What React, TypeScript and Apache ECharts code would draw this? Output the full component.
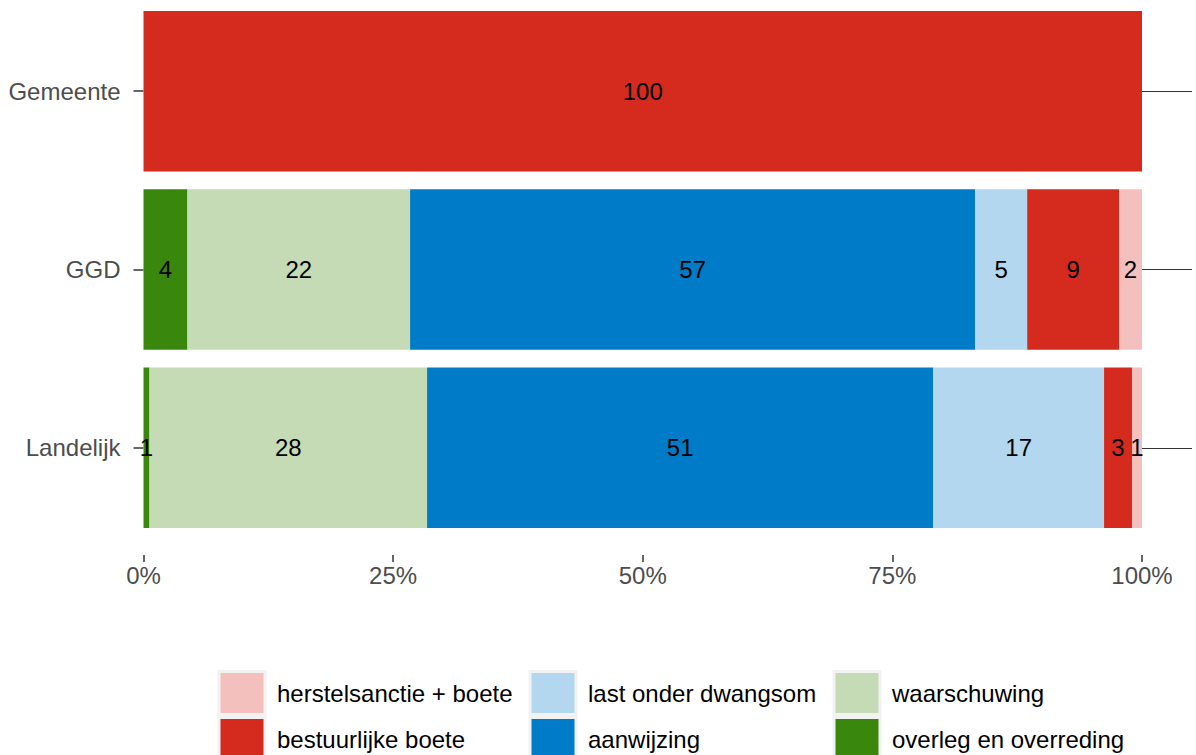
import React, { useEffect, useRef } from "react";
import * as echarts from "echarts";

const categories = ["Gemeente", "GGD", "Landelijk"];
const overleg = [0, 4.4, 0.6];
const waarschuwing = [0, 22.3, 27.8];
const aanwijzing = [0, 56.6, 50.7];
const lastOnderDwangsom = [0, 5.2, 17.1];
const bestuurlijkeBoete = [100, 9.2, 2.8];
const herstelsanctie = [0, 2.3, 1.0];
const xTicks = [0, 25, 50, 75, 100];

const FONT = "'Liberation Sans', Arial, Helvetica, sans-serif";

const seriesDefs = [
  { name: "overleg en overreding", data: overleg, color: "#39870c" },
  { name: "waarschuwing", data: waarschuwing, color: "#c5dbb5" },
  { name: "aanwijzing", data: aanwijzing, color: "#007bc7" },
  { name: "last onder dwangsom", data: lastOnderDwangsom, color: "#b3d7ee" },
  { name: "bestuurlijke boete", data: bestuurlijkeBoete, color: "#d52b1e" },
  { name: "herstelsanctie + boete", data: herstelsanctie, color: "#f4c0bd" },
];

const legendCols = [
  { left: 217.5, items: ["herstelsanctie + boete", "bestuurlijke boete"] },
  { left: 528.5, items: ["last onder dwangsom", "aanwijzing"] },
  { left: 832.5, items: ["waarschuwing", "overleg en overreding"] },
];

export default function App() {
  const ref = useRef<HTMLDivElement>(null);
  useEffect(() => {
    if (!ref.current) return;
    const chart = echarts.init(ref.current, undefined, { renderer: "svg" });
    chart.setOption({
      animation: false,
      backgroundColor: "#ffffff",
      textStyle: { fontFamily: FONT },
      grid: { left: 143.5, right: 54, top: 2, bottom: 218, containLabel: false },
      xAxis: {
        type: "value",
        min: xTicks[0],
        max: xTicks[xTicks.length - 1],
        interval: 25,
        offset: 18,
        axisLine: { show: false },
        axisTick: { show: true, length: 7, lineStyle: { color: "#333333", width: 1.5 } },
        splitLine: { show: false },
        axisLabel: {
          formatter: "{value}%",
          fontSize: 24,
          color: "#4d4d4d",
          margin: 8,
          fontFamily: FONT,
        },
      },
      yAxis: [
        {
          type: "category",
          data: categories,
          inverse: true,
          axisLine: { show: false },
          axisTick: { show: true, alignWithLabel: true, length: 10, lineStyle: { color: "#333333", width: 1.5 } },
          axisLabel: { fontSize: 24, color: "#4d4d4d", margin: 23, fontFamily: FONT },
        },
        {
          type: "category",
          data: categories,
          inverse: true,
          position: "right",
          axisLine: { show: false },
          axisTick: { show: true, alignWithLabel: true, length: 50, lineStyle: { color: "#333333", width: 1.2 } },
          axisLabel: { show: false },
        },
      ],
      legend: legendCols.map((c) => ({
        type: "plain",
        orient: "vertical",
        left: c.left,
        top: 670,
        width: 300,
        height: 200,
        padding: 0,
        itemWidth: 46,
        itemHeight: 43,
        itemGap: 0,
        icon: "rect",
        data: c.items,
        itemStyle: { borderColor: "#f2f2f2", borderWidth: 3 },
        textStyle: { fontSize: 24, color: "#000000", fontFamily: FONT, padding: [0, 0, 0, 7] },
      })),
      series: seriesDefs.map((s) => ({
        name: s.name,
        type: "bar",
        stack: "total",
        data: s.data,
        barCategoryGap: "10%",
        itemStyle: { color: s.color },
        label: {
          show: true,
          position: "inside",
          fontSize: 24,
          color: "#000000",
          fontFamily: FONT,
          formatter: (p: any) => (p.value > 0 ? String(Math.round(p.value)) : ""),
        },
      })),
    });
    return () => chart.dispose();
  }, []);
  return (
    <div
      ref={ref}
      style={{ position: "absolute", left: 0, top: 0, width: 1196, height: 755 }}
    />
  );
}
